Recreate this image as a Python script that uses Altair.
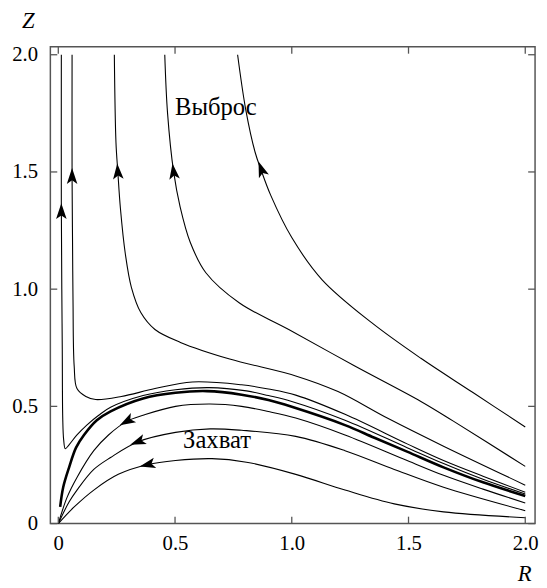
import altair as alt
import pandas as pd
import numpy as np

FONT = "Liberation Serif"

# ---- escape trajectories ("Выброс"), listed from Z = 2 down to R = 2 ----
A_R = [0.013, 0.013, 0.015, 0.017, 0.019, 0.023, 0.030, 0.046, 0.080, 0.122, 0.173, 0.224,
       0.363, 0.502, 0.646, 0.806, 0.9, 1.0, 1.228, 1.494, 1.65, 1.819, 2.0]
A_Z = [2.0, 1.353, 1.0, 0.744, 0.45, 0.357, 0.319, 0.336, 0.378, 0.42, 0.462, 0.496,
       0.546, 0.571, 0.580, 0.566, 0.546, 0.521, 0.441, 0.324, 0.256, 0.189, 0.126]

B_R = [0.059, 0.059, 0.061, 0.063, 0.068, 0.080, 0.118, 0.160, 0.270, 0.414, 0.574, 0.785,
       0.9, 1.017, 1.228, 1.494, 1.65, 1.819, 2.0]
B_Z = [2.0, 1.48, 1.2, 0.954, 0.672, 0.576, 0.542, 0.529, 0.542, 0.576, 0.604, 0.592,
       0.574, 0.548, 0.466, 0.34, 0.269, 0.202, 0.134]

C_R = [0.240, 0.247, 0.255, 0.266, 0.287, 0.313, 0.354, 0.414, 0.523, 0.734, 1.017, 1.198,
       1.409, 1.65, 2.0]
C_Z = [2.0, 1.626, 1.50, 1.345, 1.151, 1.008, 0.899, 0.828, 0.773, 0.702, 0.630, 0.563,
       0.450, 0.33, 0.164]

D_R = [0.456, 0.468, 0.494, 0.522, 0.565, 0.632, 0.776, 0.987, 1.270, 1.553, 1.692, 2.0]
D_Z = [2.0, 1.75, 1.5, 1.35, 1.2, 1.07, 0.941, 0.828, 0.672, 0.521, 0.437, 0.244]

E_R = [0.768, 0.803, 0.843, 0.868, 0.910, 1.000, 1.130, 1.342, 1.553, 1.776, 2.0]
E_Z = [2.0, 1.765, 1.584, 1.51, 1.40, 1.22, 1.04, 0.857, 0.705, 0.559, 0.412]

# ---- separatrix (thick) ----
T_R = [0.008, 0.021, 0.046, 0.076, 0.110, 0.165, 0.224, 0.363, 0.502, 0.637, 0.785, 0.9,
       1.0, 1.228, 1.354, 1.494, 1.65, 1.819, 2.0]
T_Z = [0.071, 0.155, 0.239, 0.324, 0.378, 0.441, 0.479, 0.534, 0.558, 0.565, 0.550, 0.527,
       0.498, 0.42, 0.366, 0.307, 0.24, 0.176, 0.118]

# ---- capture trajectories ("Захват"), listed from the origin to R = 2 ----
C1_R = [0.0, 0.038, 0.080, 0.152, 0.215, 0.295, 0.363, 0.502, 0.650, 0.785, 0.9, 1.017,
        1.228, 1.494, 1.65, 1.819, 2.0]
C1_Z = [0.0, 0.113, 0.197, 0.311, 0.378, 0.437, 0.462, 0.50, 0.51, 0.50, 0.478, 0.45,
        0.378, 0.269, 0.206, 0.147, 0.088]

C2_R = [0.0, 0.046, 0.080, 0.152, 0.224, 0.342, 0.502, 0.650, 0.785, 1.017, 1.228, 1.439,
        1.65, 2.0]
C2_Z = [0.0, 0.092, 0.143, 0.231, 0.282, 0.349, 0.389, 0.404, 0.398, 0.372, 0.311, 0.231,
        0.155, 0.055]

C3_R = [0.0, 0.068, 0.152, 0.257, 0.384, 0.502, 0.658, 0.806, 1.017, 1.228, 1.439, 1.65, 2.0]
C3_Z = [0.0, 0.071, 0.143, 0.21, 0.252, 0.269, 0.277, 0.262, 0.21, 0.143, 0.084, 0.05, 0.025]

curves = {"A": (A_R, A_Z), "B": (B_R, B_Z), "C": (C_R, C_Z), "D": (D_R, D_Z),
          "E": (E_R, E_Z), "T": (T_R, T_Z), "C1": (C1_R, C1_Z), "C2": (C2_R, C2_Z),
          "C3": (C3_R, C3_Z)}

# arrowheads: which curve, and where on it
arrow_curve = ["A", "B", "C", "D", "E", "C1", "C2", "C3"]
arrow_R = [0.013, 0.059, 0.255, 0.494, 0.870, 0.295, 0.342, 0.384]
arrow_Z = [1.33, 1.48, 1.50, 1.50, 1.51, 0.437, 0.349, 0.252]

# text labels
label_text = ["Выброс", "Захват"]
label_R = [0.675, 0.68]
label_Z = [1.777, 0.357]

tick_values = [0, 0.5, 1.0, 1.5, 2.0]

# ---------------------------------------------------------------
rows = []
for name, (rs, zs) in curves.items():
    for i, (r, z) in enumerate(zip(rs, zs)):
        rows.append({"curve": name, "i": i, "R": r, "Z": z})
df = pd.DataFrame(rows)


def arrow_angle(name, r0, z0):
    rs = np.array(curves[name][0])
    zs = np.array(curves[name][1])
    k = int(np.argmin((rs - r0) ** 2 + (zs - z0) ** 2))
    k = min(max(k, 1), len(rs) - 2)
    dr = rs[k - 1] - rs[k + 1]
    dz = zs[k - 1] - zs[k + 1]
    return float(np.degrees(np.arctan2(dr, dz)) % 360)


arrows = pd.DataFrame({
    "R": arrow_R, "Z": arrow_Z,
    "angle": [arrow_angle(n, r, z) for n, r, z in zip(arrow_curve, arrow_R, arrow_Z)],
})
labels = pd.DataFrame({"t": label_text, "R": label_R, "Z": label_Z})
xticks = pd.DataFrame({"R": tick_values})
yticks = pd.DataFrame({"Z": tick_values})

W, H = 492, 484
TL = 7
xs = alt.Scale(domain=[-0.034, 2.042], nice=False, zero=False)
ys = alt.Scale(domain=[0, 2.034], nice=False, zero=False)
lab = "datum.value == 0 ? '0' : format(datum.value, '.1f')"
TC = "#555555"

x_axis = alt.Axis(orient="bottom", values=tick_values, labelExpr=lab, labelFlush=False,
                  ticks=False, domain=False, grid=False, labelPadding=9,
                  labelFont=FONT, labelFontSize=21, labelColor="black",
                  title="R", titleFont=FONT, titleFontStyle="italic", titleFontWeight="normal",
                  titleFontSize=23, titleColor="black", titleX=481, titleY=58,
                  titleAlign="center", titleBaseline="alphabetic")
y_axis = alt.Axis(orient="left", values=tick_values, labelExpr=lab, labelFlush=False,
                  ticks=False, domain=False, grid=False, labelPadding=13,
                  labelFont=FONT, labelFontSize=21, labelColor="black",
                  title="Z", titleFont=FONT, titleFontStyle="italic", titleFontWeight="normal",
                  titleFontSize=23, titleColor="black", titleAngle=0, titleX=-23, titleY=-20,
                  titleAlign="center", titleBaseline="alphabetic")

X = alt.X("R:Q", scale=xs, axis=x_axis, title="R")
Y = alt.Y("Z:Q", scale=ys, axis=y_axis, title="Z")

thin = alt.Chart(df[df.curve != "T"]).mark_line(
    color="black", strokeWidth=1.1, interpolate="catmull-rom"
).encode(x=X, y=Y, detail="curve:N", order=alt.Order("i:Q"))

thick = alt.Chart(df[df.curve == "T"]).mark_line(
    color="black", strokeWidth=2.6, interpolate="catmull-rom"
).encode(x=X, y=Y, order=alt.Order("i:Q"))

arrow_path = "M0,-1L0.62,0.85L0,0.42L-0.62,0.85Z"
heads = alt.Chart(arrows).mark_point(
    shape=arrow_path, filled=True, color="black", size=300, opacity=1, strokeWidth=0
).encode(x=X, y=Y, angle=alt.Angle("angle:Q", scale=None))

texts = alt.Chart(labels).mark_text(
    font=FONT, fontSize=25, color="black", align="center", baseline="middle"
).encode(x=X, y=Y, text="t:N")

# inward tick marks on all four sides of the frame
t_bottom = alt.Chart(xticks).mark_rule(color=TC, strokeWidth=1.3).encode(
    x=X, y=alt.value(H), y2=alt.value(H - TL))
t_top = alt.Chart(xticks).mark_rule(color=TC, strokeWidth=1.3).encode(
    x=X, y=alt.value(0), y2=alt.value(TL))
t_left = alt.Chart(yticks).mark_rule(color=TC, strokeWidth=1.3).encode(
    y=Y, x=alt.value(0), x2=alt.value(TL))
t_right = alt.Chart(yticks).mark_rule(color=TC, strokeWidth=1.3).encode(
    y=Y, x=alt.value(W), x2=alt.value(W - TL))

chart = alt.layer(thin, thick, heads, texts, t_bottom, t_top, t_left, t_right).properties(
    width=W, height=H,
    autosize=alt.AutoSizeParams(type="none"),
    padding={"left": 43, "top": 35, "right": 4, "bottom": 59},
).configure_view(
    stroke=TC, strokeWidth=1.5
)

chart.save("out.html", embed_options={"renderer": "svg", "actions": False})
